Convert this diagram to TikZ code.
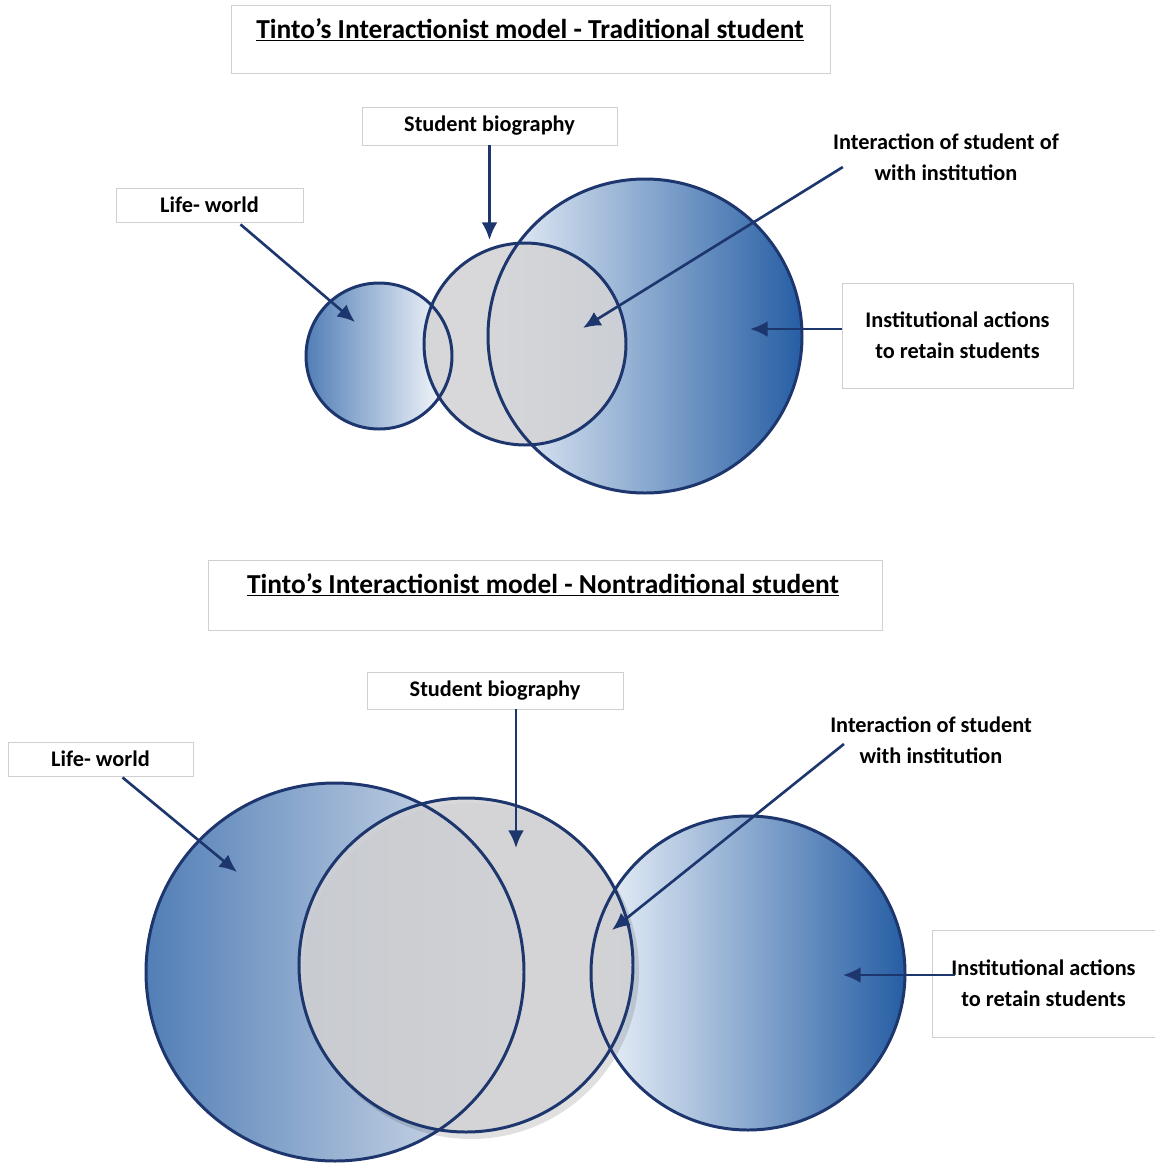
\documentclass[tikz,border=0pt]{standalone}
\usepackage{fontspec}
\setmainfont{Carlito}
\usepackage{tikz}
\usetikzlibrary{arrows.meta,calc}
\definecolor{navy}{RGB}{30,54,110}
\definecolor{bluedark}{RGB}{38,94,164}
\definecolor{bluelight}{RGB}{240,245,251}
\definecolor{lifeend}{RGB}{225,231,239}
\definecolor{biogray}{RGB}{211,211,213}
\definecolor{boxline}{RGB}{208,208,208}

\begin{document}
\begin{tikzpicture}[x=0.02cm, y=0.02cm]
\tikzstyle{every node}+=[inner sep=0pt, align=center, font=\bfseries\fontsize{12.7}{17.5}\selectfont]
\tikzstyle{labelbox}=[draw=boxline, line width=0.5pt, fill=white]
\tikzstyle{titlefont}=[font=\bfseries\fontsize{15.6}{18}\selectfont]
\tikzstyle{ring}=[draw=navy, line width=1.7pt]
\tikzstyle{pointer}=[draw=navy, line width=1.5pt, -{Latex[length=10pt,width=9pt]}]
\useasboundingbox (0,0) rectangle (1155,-1167);
\fill[white] (0,0) rectangle (1155,-1167);

% traditional student
\node[labelbox, minimum width=11.98cm, minimum height=1.36cm] (ttlAbox) at (530.5,-39) {};
\node[titlefont] (ttlA) at (530,-30) {\underline{Tinto’s Interactionist model - Traditional student}};

\coordinate (lwA) at (379,-356);
\coordinate (sbA) at (525,-344);
\coordinate (inA) at (645,-336);

\shade[left color=bluedark!80, middle color=bluedark!15, right color=white] (lwA) circle (73);
\shade[left color=bluelight, middle color=bluedark!35, right color=bluedark] (inA) circle (157);
\fill[biogray, fill opacity=0.88] (sbA) circle (101);
\draw[ring] (lwA) circle (73);
\draw[ring] (inA) circle (157);
\draw[ring] (sbA) circle (101);

\node[labelbox, minimum width=5.1cm, minimum height=0.76cm] (sbAlbl) at (489.5,-126) {Student biography};
\node[labelbox, minimum width=3.74cm, minimum height=0.68cm] (lwAlbl) at (209.5,-205) {Life- world};
\node (itAlbl) at (946,-157) {Interaction of student of\\with institution};
\node[labelbox, minimum width=4.62cm, minimum height=2.1cm] (inAlbl) at (957.5,-335.5) {Institutional actions\\to retain students};

\coordinate (sbAtip) at (489.5,-240);
\coordinate (lwAtip) at (355,-322);
\coordinate (itAtip) at (583,-328);
\coordinate (inAtip) at (750,-329);

\draw[pointer] (sbAlbl.south) -- (sbAtip);
\draw[pointer] ($(lwAlbl.south)+(31,-2)$) -- (lwAtip);
\draw[pointer] ($(itAlbl.west)+(10,-10)$) -- (itAtip);
\draw[pointer] (inAlbl.west |- inAtip) -- (inAtip);

% nontraditional student
\node[labelbox, minimum width=13.48cm, minimum height=1.4cm] (ttlBbox) at (545,-595) {};
\node[titlefont] (ttlB) at (543,-585) {\underline{Tinto’s Interactionist model - Nontraditional student}};

\coordinate (lwB) at (335,-972);
\coordinate (sbB) at (466,-965);
\coordinate (inB) at (748,-973);

\shade[left color=bluedark!80, middle color=bluedark!30, right color=lifeend] (lwB) circle (189);
\shade[left color=bluelight, middle color=bluedark!35, right color=bluedark] (inB) circle (157);
\fill[black, fill opacity=0.12] ($(sbB)+(5,-6)$) circle (168);
\fill[biogray, fill opacity=0.88] (sbB) circle (167);
\draw[ring] (lwB) circle (189);
\draw[ring] (inB) circle (157);
\draw[ring] (sbB) circle (167);

\node[labelbox, minimum width=5.12cm, minimum height=0.74cm] (sbBlbl) at (495,-690.5) {Student biography};
\node[labelbox, minimum width=3.7cm, minimum height=0.68cm] (lwBlbl) at (100.5,-759) {Life- world};
\node (itBlbl) at (931,-740) {Interaction of student\\with institution};
\node[labelbox, minimum width=4.46cm, minimum height=2.14cm] (inBlbl) at (1043.5,-983.5) {Institutional actions\\to retain students};

\coordinate (sbBtip) at (516,-848);
\coordinate (lwBtip) at (237,-872);
\coordinate (itBtip) at (612,-930);
\coordinate (inBtip) at (843,-975);

\draw[pointer] (sbBlbl.south -| sbBtip) -- (sbBtip);
\draw[pointer] ($(lwBlbl.south)+(22,-1)$) -- (lwBtip);
\draw[pointer] ($(itBlbl.west)+(14,-4)$) -- (itBtip);
\draw[pointer] ($(inBlbl.west |- inBtip)+(23,0)$) -- (inBtip);
\end{tikzpicture}
\end{document}
